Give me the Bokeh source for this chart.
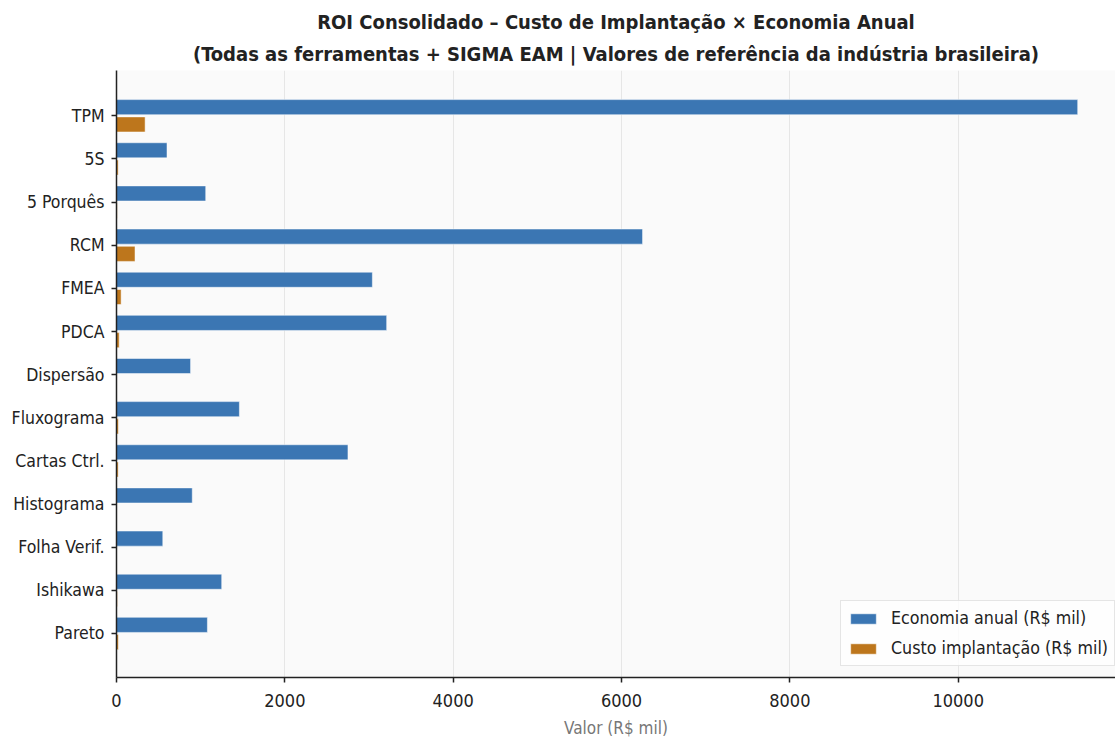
from bokeh.plotting import figure
from bokeh.models import ColumnDataSource, FixedTicker, Legend, Title
from bokeh.transform import dodge
from bokeh.embed import file_html
from bokeh.resources import INLINE

categorias = ["TPM", "5S", "5 Porquês", "RCM", "FMEA", "PDCA", "Dispersão",
              "Fluxograma", "Cartas Ctrl.", "Histograma", "Folha Verif.",
              "Ishikawa", "Pareto"]
economia = [11420, 600, 1060, 6250, 3040, 3210, 880, 1460, 2750, 900, 550, 1250, 1080]
custo = [340, 20, 8, 220, 55, 32, 6, 22, 20, 6, 5, 10, 22]
x_ticks = [0, 2000, 4000, 6000, 8000, 10000]
titulo_1 = "ROI Consolidado – Custo de Implantação × Economia Anual"
titulo_2 = "(Todas as ferramentas + SIGMA EAM | Valores de referência da indústria brasileira)"

n = len(categorias)
pos = [n - 1 - i for i in range(n)]
src = ColumnDataSource(dict(y=pos, cat=categorias, eco=economia, custo=custo))

FONT = "DejaVu Sans Condensed"
BLUE = "#3B76B3"
ORANGE = "#BD761C"

p = figure(width=1115, height=740, output_backend="svg", toolbar_location=None,
           x_range=(0, 11869), y_range=(-1.02, 13.05),
           min_border_left=116, min_border_right=0, min_border_top=70,
           min_border_bottom=62)

r1 = p.hbar(y=dodge("y", 0.2), right="eco", height=0.35, source=src,
            fill_color=BLUE, line_color="white", line_width=0.5)
r2 = p.hbar(y=dodge("y", -0.2), right="custo", height=0.35, source=src,
            fill_color=ORANGE, line_color="white", line_width=0.5)

p.background_fill_color = "#FAFAFA"
p.border_fill_color = "white"
p.outline_line_color = None

for txt, so in ((titulo_2, 10), (titulo_1, 2)):
    t = Title(text=txt, align="center", text_font=FONT, text_font_size="20px",
              text_font_style="bold", text_color="#222222", standoff=so)
    p.add_layout(t, "above")

p.yaxis.ticker = FixedTicker(ticks=pos)
p.yaxis.major_label_overrides = {y: c for y, c in zip(pos, categorias)}
p.xaxis.ticker = FixedTicker(ticks=x_ticks)
for ax in (p.xaxis, p.yaxis):
    ax.major_label_text_color = "#222222"
    ax.major_label_text_font = FONT
    ax.axis_line_color = "#222222"
    ax.axis_line_width = 1.5
    ax.major_tick_line_color = "#222222"
    ax.major_tick_line_width = 1.5
    ax.major_tick_out = 5
    ax.major_tick_in = 0
    ax.minor_tick_line_color = None
p.yaxis.major_label_text_font_size = "17.5px"
p.xaxis.major_label_text_font_size = "18px"
p.yaxis.major_label_standoff = 7
p.xaxis.major_label_standoff = 11

p.xaxis.axis_label = "Valor (R$ mil)"
p.xaxis.axis_label_text_font = FONT
p.xaxis.axis_label_text_font_size = "17px"
p.xaxis.axis_label_text_font_style = "normal"
p.xaxis.axis_label_text_color = "#777777"
p.xaxis.axis_label_standoff = 8

p.ygrid.grid_line_color = None
p.xgrid.ticker = FixedTicker(ticks=x_ticks)
p.xgrid.grid_line_color = "#E6E6E6"
p.xgrid.grid_line_width = 1

legend = Legend(items=[("Economia anual (R$ mil)", [r1]),
                       ("Custo implantação (R$ mil)", [r2])],
                location=(724, 11))
legend.label_text_font = FONT
legend.label_text_font_size = "17.7px"
legend.label_text_color = "#222222"
legend.glyph_width = 32
legend.glyph_height = 13
legend.label_height = 22
legend.spacing = 8
legend.padding = 6
legend.margin = 0
legend.label_standoff = 12
legend.border_line_color = "#CCCCCC"
legend.background_fill_color = "white"
legend.background_fill_alpha = 0.8
p.add_layout(legend, "center")

open("out.html", "w").write(file_html(p, INLINE))
